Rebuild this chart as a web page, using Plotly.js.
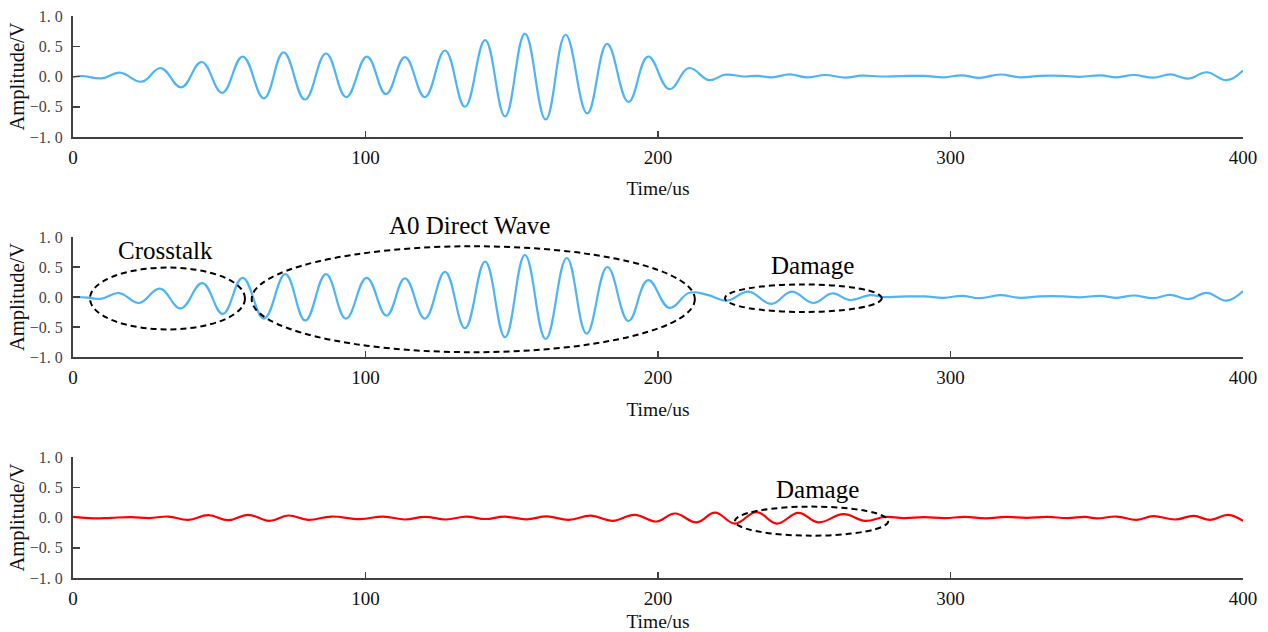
<!DOCTYPE html>
<html>
<head>
<meta charset="utf-8">
<script src="https://cdn.plot.ly/plotly-3.0.1.min.js"></script>
<style>
html,body{margin:0;padding:0;background:#fff;}
#chart{width:1268px;height:632px;}
</style>
</head>
<body>
<div id="chart"></div>
<script>
// ---- Data (extrema of each waveform, Time in us, Amplitude in V) ----
const timeTop = [0, 3, 9.8, 16, 23.5, 30, 37, 44, 51, 58, 65.3, 72, 79.3, 86.5, 93.4, 100.5, 107, 113.5, 120.3, 127.2, 134, 140.9, 147.7, 154.5, 161.6, 168.4, 175.8, 182.6, 189.9, 196.6, 203.9, 210.6, 217.4, 223, 229.5, 234, 239, 245, 251, 257.1, 264, 269.7, 276, 283, 291, 297.7, 303.9, 310, 316.9, 323.8, 330.6, 338.6, 344.3, 351.2, 356.9, 362.6, 369.4, 375.1, 381.4, 387.6, 394.4, 400];
const ampTop = [-0.013, 0.008, -0.03, 0.063, -0.086, 0.14, -0.18, 0.24, -0.27, 0.33, -0.36, 0.40, -0.38, 0.38, -0.34, 0.33, -0.29, 0.32, -0.34, 0.43, -0.50, 0.60, -0.66, 0.71, -0.71, 0.69, -0.61, 0.54, -0.42, 0.33, -0.21, 0.14, -0.06, 0.03, 0.0, 0.01, -0.013, 0.035, -0.015, 0.025, -0.017, 0.015, 0.0, 0.006, 0.01, -0.013, 0.02, -0.022, 0.033, -0.013, 0.01, 0.01, -0.005, 0.02, -0.013, 0.025, -0.018, 0.035, -0.035, 0.07, -0.06, 0.10];

const timeMid = [0, 5, 9.5, 15.8, 22.6, 29.7, 36.8, 44.2, 51.2, 58, 65.3, 72.6, 79.4, 86.5, 93.3, 100.4, 107.2, 113.5, 120.3, 127.2, 134, 140.9, 147.7, 154.5, 161.6, 168.8, 175.6, 182.7, 189.9, 196.6, 203.9, 210.7, 216.6, 223.5, 230.9, 238.8, 245.7, 253.1, 259.6, 265.6, 272.5, 277, 283, 291, 297.7, 303.9, 310, 316.9, 323.8, 330.6, 338.6, 344.3, 351.2, 356.9, 362.6, 369.4, 375.1, 381.4, 387.6, 394.4, 400];
const ampMid = [0.0, -0.01, -0.03, 0.066, -0.10, 0.14, -0.19, 0.23, -0.28, 0.32, -0.36, 0.38, -0.39, 0.38, -0.36, 0.32, -0.31, 0.31, -0.36, 0.42, -0.52, 0.59, -0.67, 0.70, -0.70, 0.65, -0.61, 0.50, -0.40, 0.28, -0.18, 0.07, 0.04, -0.06, 0.09, -0.115, 0.09, -0.10, 0.06, -0.05, 0.03, 0.0, 0.006, 0.01, -0.013, 0.02, -0.02, 0.03, -0.013, 0.01, 0.01, -0.005, 0.02, -0.013, 0.025, -0.018, 0.035, -0.035, 0.07, -0.06, 0.10];

const timeBot = [0, 7, 13, 20, 26, 32.6, 39.4, 46.3, 53.1, 59.9, 67.1, 73.6, 80.4, 88.4, 98.1, 106.1, 113.5, 120.3, 127.5, 134.5, 141, 147.5, 155, 162, 169.5, 177, 184.5, 192, 199.5, 205.8, 213.2, 219.5, 226.3, 233.7, 240.6, 248, 254.8, 263.4, 270.8, 277.6, 284, 291, 298, 305, 312, 319, 326, 333, 340, 346, 350, 356.8, 363.7, 369.3, 376.8, 383.1, 388.8, 395, 400];
const ampBot = [0.01, -0.015, -0.005, 0.005, -0.01, 0.016, -0.038, 0.038, -0.044, 0.044, -0.055, 0.033, -0.038, 0.016, -0.027, 0.016, -0.033, 0.011, -0.033, 0.015, -0.025, 0.015, -0.03, 0.018, -0.04, 0.03, -0.055, 0.044, -0.066, 0.066, -0.08, 0.08, -0.10, 0.09, -0.10, 0.077, -0.08, 0.055, -0.055, 0.01, -0.01, 0.005, -0.01, 0.01, -0.015, 0.01, -0.005, 0.01, -0.01, 0.01, -0.015, 0.016, -0.038, 0.022, -0.033, 0.027, -0.038, 0.044, -0.055];

const xTickVals = [0, 100, 200, 300, 400];
const xTickText = ['0', '100', '200', '300', '400'];
const yTickVals = [-1, -0.5, 0, 0.5, 1];
const yTickText = ['\u22121. 0', '\u22120. 5', '0. 0', '0. 5', '1. 0'];

const labels = ['Crosstalk', 'A0 Direct Wave', 'Damage', 'Damage'];
const xTitle = 'Time/us';
const yTitle = 'Amplitude/V';

// ---- Styles ----
const blue = '#4db5f7';
const red = '#ff0000';
const axisColor = '#404040';
const serif = 'Liberation Serif, Times New Roman, serif';

const lineStyle = (c) => ({color: c, width: 2.2, shape: 'spline', smoothing: 1.2});
const traces = [
  {x: timeTop, y: ampTop, xaxis: 'x', yaxis: 'y', type: 'scatter', mode: 'lines', line: lineStyle(blue), hoverinfo: 'skip'},
  {x: timeMid, y: ampMid, xaxis: 'x2', yaxis: 'y2', type: 'scatter', mode: 'lines', line: lineStyle(blue), hoverinfo: 'skip'},
  {x: timeBot, y: ampBot, xaxis: 'x3', yaxis: 'y3', type: 'scatter', mode: 'lines', line: lineStyle(red), hoverinfo: 'skip'}
];

function xAxis(anchor, standoff) {
  return {
    anchor: anchor, domain: [0, 1], range: [0, 400],
    tickvals: xTickVals, ticktext: xTickText,
    ticks: 'inside', ticklen: 6, tickwidth: 1.5, tickcolor: axisColor,
    showline: true, linecolor: axisColor, linewidth: 2,
    showgrid: false, zeroline: false,
    tickfont: {family: serif, size: 19, color: '#111'},
    ticklabelstandoff: 2,
    title: {text: xTitle, font: {family: serif, size: 19.5, color: '#111'}, standoff: standoff}
  };
}
function yAxis(anchor, domain) {
  return {
    anchor: anchor, domain: domain, range: [-1, 1],
    tickvals: yTickVals, ticktext: yTickText,
    ticks: 'inside', ticklen: 7, tickwidth: 1.5, tickcolor: axisColor,
    showline: true, linecolor: axisColor, linewidth: 2,
    showgrid: false, zeroline: false,
    tickfont: {family: serif, size: 16, color: '#444'},
    ticklabelstandoff: 5,
    title: {text: yTitle, font: {family: serif, size: 20.5, color: '#111'}, standoff: 0}
  };
}

const ell = {type: 'circle', line: {color: '#000', width: 2, dash: '6px,4px'}, fillcolor: 'rgba(0,0,0,0)'};
const annFont = {family: serif, size: 25, color: '#000'};

const layout = {
  width: 1268, height: 632,
  margin: {l: 73, r: 25, t: 16, b: 54},
  paper_bgcolor: '#fff', plot_bgcolor: '#fff',
  showlegend: false,
  xaxis: xAxis('y', 15),
  yaxis: yAxis('x', [0.7847, 1]),
  xaxis2: xAxis('y2', 16),
  yaxis2: yAxis('x2', [0.3932, 0.6068]),
  xaxis3: xAxis('y3', 8),
  yaxis3: yAxis('x3', [0, 0.2153]),
  shapes: [
    Object.assign({}, ell, {xref: 'x2', yref: 'y2', x0: 5.8, x1: 58.8, y0: -0.54, y1: 0.49}),
    Object.assign({}, ell, {xref: 'x2', yref: 'y2', x0: 61.1, x1: 212.6, y0: -0.92, y1: 0.845}),
    Object.assign({}, ell, {xref: 'x2', yref: 'y2', x0: 222.9, x1: 276.5, y0: -0.25, y1: 0.21}),
    Object.assign({}, ell, {xref: 'x3', yref: 'y3', x0: 226.3, x1: 278.7, y0: -0.30, y1: 0.18})
  ],
  annotations: [
    {xref: 'x2', yref: 'y2', x: 31.6, y: 0.78, text: labels[0], showarrow: false, font: annFont},
    {xref: 'x2', yref: 'paper', x: 135.7, y: 0.628, text: labels[1], showarrow: false, font: annFont},
    {xref: 'x2', yref: 'y2', x: 252.9, y: 0.53, text: labels[2], showarrow: false, font: annFont},
    {xref: 'x3', yref: 'y3', x: 254.5, y: 0.46, text: labels[3], showarrow: false, font: annFont}
  ]
};

Plotly.newPlot('chart', traces, layout, {staticPlot: true, displayModeBar: false});
</script>
</body>
</html>
